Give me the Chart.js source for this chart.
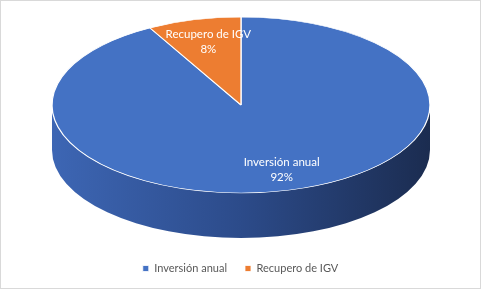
<!DOCTYPE html>
<html>
<head>
<meta charset="utf-8">
<script src="https://cdn.jsdelivr.net/npm/chart.js@4/dist/chart.umd.min.js"></script>
<style>
    html, body { margin: 0; padding: 0; background: #fff; }
    #wrap { width: 481px; height: 289px; box-sizing: border-box; border: 1px solid #d9d9d9; }
    canvas { display: block; }
</style>
</head>
<body>
<div id="wrap"><canvas id="pieChart" width="479" height="287"></canvas></div>
<script>
// Data
const categories = ['Inversión anual', 'Recupero de IGV'];
const shares = [92, 8];
const percentLabels = ['92%', '8%'];

// Colors
const topColors = ['#4472c4', '#ed7d31'];
const sideColors = [['#3d66b4', '#2c4b8a', '#1b2c50'], ['#c9682a', '#a8561f', '#7a3d14']];

// Fake 3D look: top face squashed into an ellipse, front rim drawn below it
const ellipse = { cx: 240, cy: 104, rx: 189, ry: 88, depth: 45 };

const pie3d = {
    id: 'pie3d',
    beforeDatasetsDraw(chart) {
        const ctx = chart.ctx;
        const arcs = chart.getDatasetMeta(0).data;
        const e = ellipse;
        ctx.save();
        // side walls (only front half, angles 0..PI)
        arcs.forEach((arc, i) => {
            for (const shift of [0, -2 * Math.PI, 2 * Math.PI]) {
                const a0 = Math.max(arc.startAngle + shift, 0);
                const a1 = Math.min(arc.endAngle + shift, Math.PI);
                if (a1 <= a0) continue;
                const g = ctx.createLinearGradient(e.cx - e.rx, 0, e.cx + e.rx, 0);
                g.addColorStop(0, sideColors[i][0]);
                g.addColorStop(0.5, sideColors[i][1]);
                g.addColorStop(1, sideColors[i][2]);
                ctx.beginPath();
                ctx.ellipse(e.cx, e.cy, e.rx, e.ry, 0, a0, a1);
                ctx.ellipse(e.cx, e.cy + e.depth, e.rx, e.ry, 0, a1, a0, true);
                ctx.closePath();
                ctx.fillStyle = g;
                ctx.fill();
            }
        });
        // squash the pie drawn by Chart.js onto the ellipse
        const a = arcs[0];
        ctx.translate(e.cx, e.cy);
        ctx.scale(e.rx / a.outerRadius, e.ry / a.outerRadius);
        ctx.translate(-a.x, -a.y);
    },
    afterDatasetsDraw(chart) {
        const ctx = chart.ctx;
        ctx.restore();
        const arcs = chart.getDatasetMeta(0).data;
        const e = ellipse;
        ctx.save();
        ctx.fillStyle = '#ffffff';
        ctx.font = '11.5px Lato, "Liberation Sans", sans-serif';
        ctx.textAlign = 'center';
        ctx.textBaseline = 'middle';
        arcs.forEach((arc, i) => {
            const mid = (arc.startAngle + arc.endAngle) / 2;
            const x = e.cx + e.rx * 0.78 * Math.cos(mid) + 4;
            const y = e.cy + e.ry * 0.75 * Math.sin(mid) + 1;
            ctx.fillText(categories[i], x, y - 7.5);
            ctx.fillText(percentLabels[i], x, y + 7.5);
        });
        ctx.restore();
    }
};

let pieChart;

function initChart() {
    const pieCtx = document.getElementById('pieChart');
    pieChart = new Chart(pieCtx, {
        type: 'pie',
        data: {
            labels: categories,
            datasets: [{
                data: shares,
                backgroundColor: topColors,
                borderColor: '#ffffff',
                borderWidth: 0.8,
                clip: false
            }]
        },
        options: {
            responsive: false,
            animation: false,
            layout: { padding: { top: 10, bottom: 4 } },
            plugins: {
                tooltip: { enabled: false },
                legend: {
                    position: 'bottom',
                    labels: {
                        boxWidth: 6,
                        boxHeight: 6,
                        padding: 18,
                        color: '#595959',
                        font: { family: 'Lato, "Liberation Sans", sans-serif', size: 11 }
                    }
                }
            }
        },
        plugins: [pie3d]
    });
}

window.addEventListener('DOMContentLoaded', () => {
    initChart();
});
</script>
</body>
</html>
